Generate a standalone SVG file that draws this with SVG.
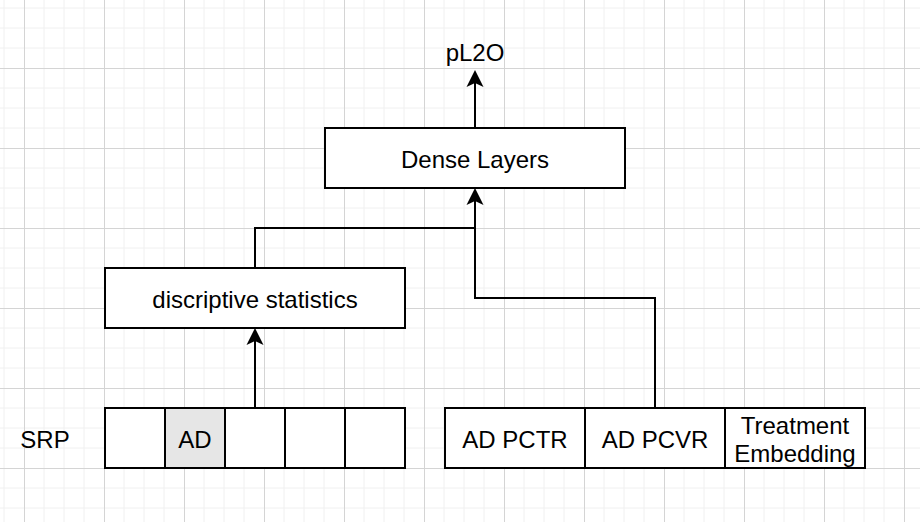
<svg xmlns="http://www.w3.org/2000/svg" width="920" height="522" viewBox="0 0 920 522">
<defs>
<pattern id="grid" x="24" y="68" width="80" height="80" patternUnits="userSpaceOnUse">
<path d="M20 0V80M40 0V80M60 0V80M0 20H80M0 40H80M0 60H80" stroke="#f0f0f0" stroke-width="1" fill="none"/>
<path d="M0.5 0V80M0 0.5H80" stroke="#d4d4d4" stroke-width="1" fill="none"/>
</pattern>
<style>
.box{fill:#fff;stroke:#000;stroke-width:2}
.t{font-family:"Liberation Sans",Arial,sans-serif;font-size:24px;fill:#000;text-anchor:middle}
.c{fill:none;stroke:#000;stroke-width:2}
</style>
</defs>
<rect width="920" height="522" fill="#fff"/>
<rect width="920" height="522" fill="url(#grid)"/>
<g id="connectors">
<path class="c" d="M475 128V83"/>
<path d="M475 70L483.5 87L475 83L466.5 87Z"/>
<path class="c" d="M255 268V228H475V201"/>
<path d="M475 188L483.5 205L475 201L466.5 205Z"/>
<path class="c" d="M655 408V298H475V228"/>
<path class="c" d="M255 408V341"/>
<path d="M255 328L263.5 345L255 341L246.5 345Z"/>
</g>
<g id="pL2O"><text class="t" x="475" y="61">pL2O</text></g>
<g id="dense"><rect class="box" x="325" y="128" width="300" height="60"/><text class="t" x="475" y="167.5">Dense Layers</text></g>
<g id="stats"><rect class="box" x="105" y="268" width="300" height="60"/><text class="t" x="255" y="307.5">discriptive statistics</text></g>
<g id="srp-label"><text class="t" x="45" y="447.5">SRP</text></g>
<g id="srp">
<rect class="box" x="105" y="408" width="60" height="60"/>
<rect class="box" x="165" y="408" width="60" height="60" style="fill:#e6e6e6"/>
<text class="t" x="195" y="447.5">AD</text>
<rect class="box" x="225" y="408" width="60" height="60"/>
<rect class="box" x="285" y="408" width="60" height="60"/>
<rect class="box" x="345" y="408" width="60" height="60"/>
</g>
<g id="features">
<rect class="box" x="445" y="408" width="140" height="60"/>
<text class="t" x="515" y="447.5">AD PCTR</text>
<rect class="box" x="585" y="408" width="140" height="60"/>
<text class="t" x="655" y="447.5">AD PCVR</text>
<rect class="box" x="725" y="408" width="140" height="60"/>
<text class="t" x="795" y="433.5">Treatment</text>
<text class="t" x="795" y="462">Embedding</text>
</g>
</svg>
